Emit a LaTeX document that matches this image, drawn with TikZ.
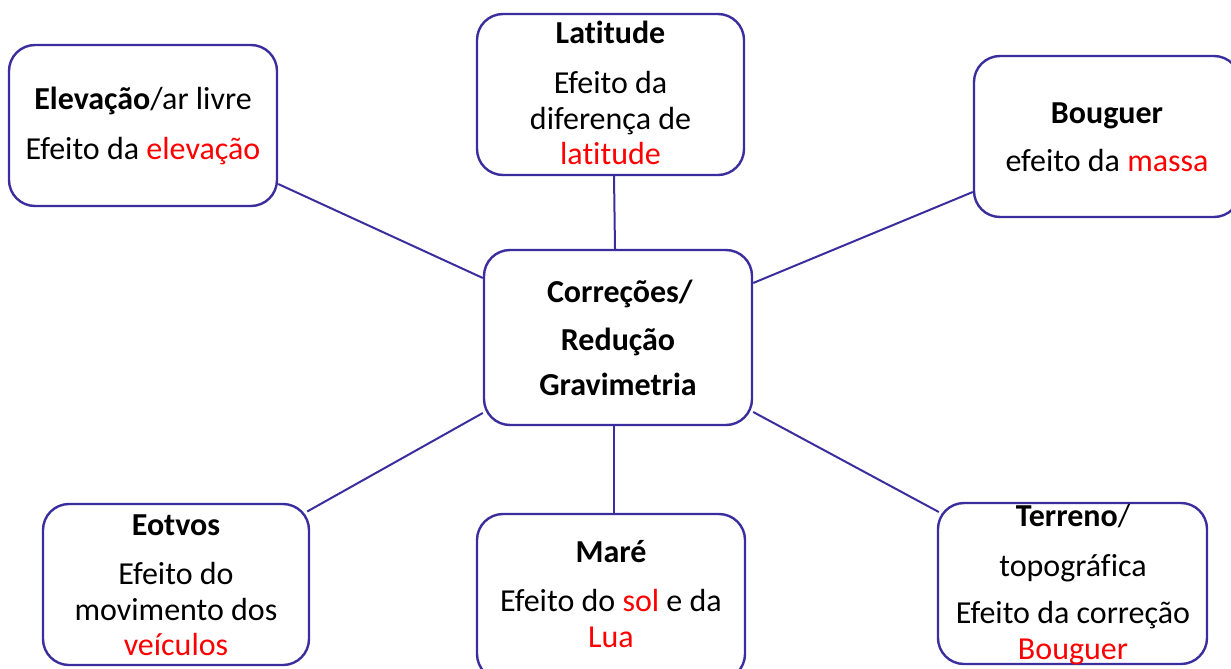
\documentclass[tikz,border=0pt]{standalone}
\usepackage{fontspec}
\setmainfont[Ligatures={NoCommon,NoRequired,NoContextual}]{Carlito}
\usetikzlibrary{calc}
\definecolor{edge}{RGB}{58,46,158}
\definecolor{hl}{RGB}{255,0,0}
\tikzset{
  box/.style={draw=edge, line width=2.4pt, rounded corners=26pt, fill=white, inner sep=0pt},
  conn/.style={draw=edge, line width=2pt},
  txt/.style={anchor=base, inner sep=0pt, font=\fontsize{32}{34}\selectfont},
}
\begin{document}
\begin{tikzpicture}[x=1pt,y=-1pt]
\useasboundingbox (0,0) rectangle (1231,669);
% boxes
\node[box, minimum width=268pt, minimum height=161pt] (elev) at (143,125.5) {};
\node[box, minimum width=267pt, minimum height=161pt] (lat) at (610.5,94.5) {};
\node[box, minimum width=266pt, minimum height=161pt] (boug) at (1107,136.5) {};
\node[box, minimum width=268pt, minimum height=175pt] (cent) at (618,337.5) {};
\node[box, minimum width=266pt, minimum height=161pt] (eotv) at (176,584.5) {};
\node[box, minimum width=268pt, minimum height=166pt] (mare) at (611,597) {};
\node[box, minimum width=269pt, minimum height=161pt] (terr) at (1072.5,583.5) {};
% connectors
\draw[conn] ($(elev.east)+(0,58.5)$) -- ($(cent.west)+(0,-59.5)$);
\draw[conn] ($(lat.south)+(3.5,0)$) -- ($(cent.north)+(-3,0)$);
\draw[conn] ($(boug.west)+(0,55.5)$) -- ($(cent.east)+(0,-54.5)$);
\draw[conn] ($(eotv.east)+(-3,-73)$) -- ($(cent.west)+(0,75.5)$);
\draw[conn] ($(cent.south)+(-4,0)$) -- ($(mare.north)+(3,0)$);
\draw[conn] ($(cent.east)+(0,74.5)$) -- ($(terr.west)+(2,-71.5)$);
% texts
\node[txt] (elev1) at (143,109) {\textbf{Elevação}/ar livre};
\node[txt] (elev2) at (143,159) {Efeito da \textcolor{hl}{elevação}};
\node[txt] (lat1) at (610.5,44) {\textbf{Latitude}};
\node[txt] (lat2) at (610.5,93) {Efeito da};
\node[txt] (lat3) at (610.5,129) {diferença de};
\node[txt] (lat4) at (610.5,164) {\textcolor{hl}{latitude}};
\node[txt] (boug1) at (1107,123) {\textbf{Bouguer}};
\node[txt] (boug2) at (1107,171) {efeito da \textcolor{hl}{massa}};
\node[txt] (cent1) at (620,302) {\textbf{Correções/}};
\node[txt] (cent2) at (618,350) {\textbf{Redução}};
\node[txt] (cent3) at (618,395) {\textbf{Gravimetria}};
\node[txt] (eotv1) at (176,535) {\textbf{Eotvos}};
\node[txt] (eotv2) at (176,584) {Efeito do};
\node[txt] (eotv3) at (176,620) {movimento dos};
\node[txt] (eotv4) at (176,655) {\textcolor{hl}{veículos}};
\node[txt] (mare1) at (611,562) {\textbf{Maré}};
\node[txt] (mare2) at (611,611) {Efeito do \textcolor{hl}{sol} e da};
\node[txt] (mare3) at (611,647) {\textcolor{hl}{Lua}};
\node[txt] (terr1) at (1073,526) {\textbf{Terreno}/};
\node[txt] (terr2) at (1073,576) {topográfica};
\node[txt] (terr3) at (1073,623) {Efeito da correção};
\node[txt] (terr4) at (1073,659) {\textcolor{hl}{Bouguer}};
\end{tikzpicture}
\end{document}
